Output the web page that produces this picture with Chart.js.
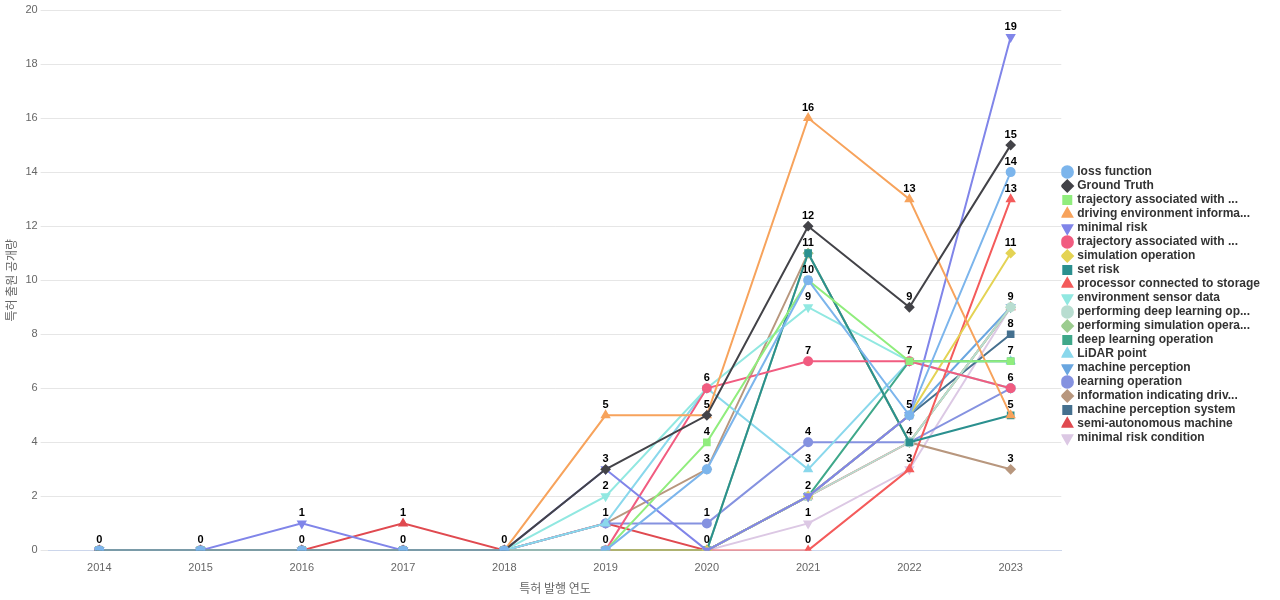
<!DOCTYPE html>
<html>
<head>
<meta charset="utf-8">
<script src="https://cdn.jsdelivr.net/npm/chart.js@4"></script>
<style>
body { margin: 0; background: #fff; }
</style>
</head>
<body>
<canvas id="chart" width="1280" height="600"></canvas>
<script>
var years = ['2014', '2015', '2016', '2017', '2018', '2019', '2020', '2021', '2022', '2023'];
var names = ['loss function', 'Ground Truth', 'trajectory associated with ...', 'driving environment informa...',
    'minimal risk', 'trajectory associated with ...', 'simulation operation', 'set risk',
    'processor connected to storage', 'environment sensor data', 'performing deep learning op...',
    'performing simulation opera...', 'deep learning operation', 'LiDAR point', 'machine perception',
    'learning operation', 'information indicating driv...', 'machine perception system',
    'semi-autonomous machine', 'minimal risk condition'];
var lossFunction     = [0, 0, 0, 0, 0, 0, 3, 10, 5, 14];
var groundTruth      = [0, 0, 0, 0, 0, 3, 5, 12, 9, 15];
var trajectoryA      = [0, 0, 0, 0, 0, 0, 4, 10, 7, 7];
var drivingEnv       = [0, 0, 0, 0, 0, 5, 5, 16, 13, 5];
var minimalRisk      = [0, 0, 1, 0, 0, 3, 0, 2, 5, 19];
var trajectoryB      = [0, 0, 0, 0, 0, 0, 6, 7, 7, 6];
var simulationOp     = [0, 0, 0, 0, 0, 0, 0, 2, 5, 11];
var setRisk          = [0, 0, 0, 0, 0, 0, 0, 11, 4, 5];
var processorStorage = [0, 0, 0, 0, 0, 0, 0, 0, 3, 13];
var envSensor        = [0, 0, 0, 0, 0, 2, 6, 9, 7, 6];
var deepLearningOp   = [0, 0, 0, 0, 0, 0, 0, 2, 4, 9];
var simulationOpera  = [0, 0, 0, 0, 0, 0, 0, 11, 4, 9];
var deepLearning     = [0, 0, 0, 0, 0, 0, 0, 2, 7, 7];
var lidarPoint       = [0, 0, 0, 0, 0, 1, 6, 3, 7, 7];
var machinePercep    = [0, 0, 0, 0, 0, 0, 0, 2, 5, 9];
var learningOp       = [0, 0, 0, 0, 0, 1, 1, 4, 4, 6];
var infoIndicating   = [0, 0, 0, 0, 0, 1, 3, 11, 4, 3];
var percepSystem     = [0, 0, 0, 0, 0, 0, 0, 2, 5, 8];
var semiAutonomous   = [0, 0, 0, 1, 0, 1, 0, 2, 4, 9];
var minimalRiskCond  = [0, 0, 0, 0, 0, 0, 0, 1, 3, 9];

var seriesData = [lossFunction, groundTruth, trajectoryA, drivingEnv, minimalRisk, trajectoryB, simulationOp,
    setRisk, processorStorage, envSensor, deepLearningOp, simulationOpera, deepLearning, lidarPoint,
    machinePercep, learningOp, infoIndicating, percepSystem, semiAutonomous, minimalRiskCond];
var colors = ['#7cb5ec', '#434348', '#90ed7d', '#f7a35c', '#8085e9', '#f15c80', '#e4d354', '#2b908f',
    '#f45b5b', '#91e8e1', '#b8ddd0', '#9ccc8f', '#3fa88a', '#8ad8ec', '#6aa6e0', '#8592e0', '#b8977e',
    '#45708f', '#e04a50', '#dcc8e4'];
var styles = ['circle', 'rectRot', 'rect', 'triangle', 'triangle', 'circle', 'rectRot', 'rect', 'triangle',
    'triangle', 'circle', 'rectRot', 'rect', 'triangle', 'triangle', 'circle', 'rectRot', 'rect', 'triangle', 'triangle'];
var down = [4, 9, 14, 19];

var datasets = seriesData.map(function(d, i) {
    return {
        label: names[i], data: d, borderColor: colors[i], backgroundColor: colors[i],
        borderWidth: 2, pointStyle: styles[i], pointRadius: 4,
        pointRotation: down.indexOf(i) >= 0 ? 180 : 0, tension: 0
    };
});

var valueLabels = {
    id: 'valueLabels',
    afterDatasetsDraw: function(chart) {
        var ctx = chart.ctx, seen = {};
        ctx.save();
        ctx.font = 'bold 11px "Liberation Sans", Arial';
        ctx.fillStyle = '#000';
        ctx.textAlign = 'center';
        ctx.textBaseline = 'bottom';
        chart.data.datasets.forEach(function(ds, i) {
            chart.getDatasetMeta(i).data.forEach(function(pt, j) {
                var key = j + '_' + ds.data[j];
                if (seen[key]) return;
                seen[key] = true;
                ctx.fillText(ds.data[j], pt.x, pt.y - 5);
            });
        });
        ctx.restore();
    }
};

new Chart(document.getElementById('chart'), {
    type: 'line',
    data: { labels: years, datasets: datasets },
    plugins: [valueLabels],
    options: {
        responsive: false, animation: false,
        layout: { padding: { top: 10, right: 10 } },
        plugins: {
            legend: {
                position: 'right',
                labels: { usePointStyle: true, boxWidth: 8, boxHeight: 8, padding: 2,
                    font: { size: 12, weight: 'bold', family: '"Liberation Sans", Arial' }, color: '#333' }
            },
            tooltip: { enabled: false }
        },
        scales: {
            x: {
                offset: true,
                grid: { display: false },
                border: { color: '#ccd6eb' },
                ticks: { color: '#666', font: { size: 11 } },
                title: { display: true, text: '특허 발행 연도', color: '#666', font: { size: 12, family: '"Noto Sans CJK KR"' } }
            },
            y: {
                min: 0, max: 20,
                ticks: { stepSize: 2, color: '#666', font: { size: 11 } },
                grid: { color: '#e6e6e6' },
                border: { display: false },
                title: { display: true, text: '특허 출원 공개량', color: '#666', font: { size: 12, family: '"Noto Sans CJK KR"' } }
            }
        }
    }
});
</script>
</body>
</html>
